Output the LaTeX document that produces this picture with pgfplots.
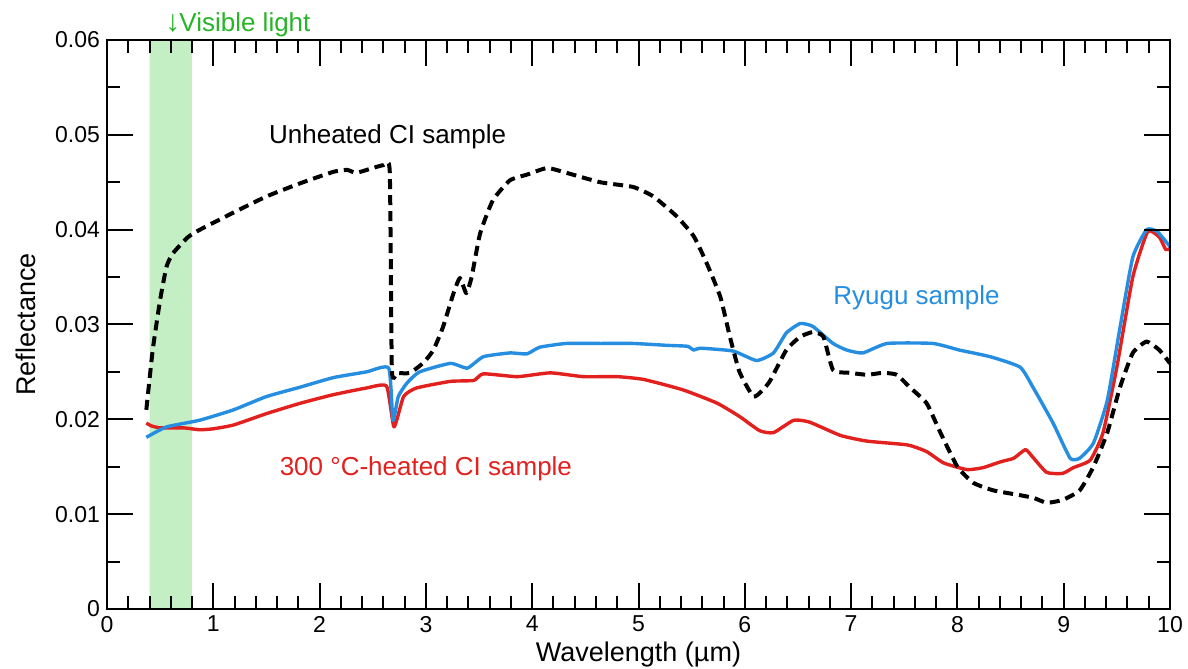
\documentclass[border=0pt]{standalone}
\usepackage{pgfplots}
\pgfplotsset{compat=1.18}
\usepackage{fontspec}
\setmainfont{Liberation Sans}
\usetikzlibrary{calc}

\definecolor{ryugu}{RGB}{38,142,224}
\definecolor{heated}{RGB}{226,32,30}
\definecolor{band}{RGB}{196,238,196}
\definecolor{vis}{RGB}{40,180,40}

\begin{document}
\begin{tikzpicture}
  \begin{axis}[
      scale only axis,
      width=531.5pt, height=284.5pt,
      xmin=0, xmax=10, ymin=0, ymax=0.06,
      xtick={0,1,...,10},
      ytick={0,0.01,...,0.06},
      minor x tick num=4,
      minor y tick num=1,
      major tick length=12.8pt,
      minor tick length=6.4pt,
      tick align=inside,
      every tick/.style={black, line width=1pt},
      axis line style={line width=1.3pt},
      scaled y ticks=false,
      yticklabel style={/pgf/number format/fixed, /pgf/number format/precision=2},
      /pgf/number format/assume math mode=true,
      tick label style={font=\fontsize{11.5}{13}\selectfont},
      xlabel={Wavelength (µm)},
      ylabel={Reflectance},
      label style={font=\fontsize{13.5}{15}\selectfont},
      xlabel style={at={(axis description cs:0.5,-0.058)}, anchor=north, inner sep=0pt},
      ylabel style={at={(axis description cs:-0.0668,0.5)}, anchor=south, inner sep=0pt},
      every axis plot/.append style={line join=round},
      axis on top,
      clip=false,
    ]
    % visible light band
    \addplot[fill=band, draw=none] coordinates {
        (0.4,0) (0.8,0) (0.8,0.06) (0.4,0.06)
      } \closedcycle;

    % 300 C heated CI sample
    \addplot[heated, line width=1.7pt, smooth, tension=0.3] coordinates {
        (0.37,0.0196) (0.42,0.0193) (0.50,0.0191) (0.72,0.0191) (0.87,0.0189)
        (1.00,0.0190) (1.19,0.0194) (1.50,0.0206) (1.82,0.0217) (2.13,0.0226) (2.44,0.0233)
        (2.63,0.0235) (2.70,0.0192) (2.79,0.0224) (2.91,0.0233) (3.23,0.0240)
        (3.45,0.0241) (3.54,0.0248) (3.86,0.0245) (4.17,0.0249) (4.48,0.0245)
        (4.80,0.0245) (5.05,0.0242) (5.42,0.0231) (5.74,0.0217) (5.95,0.0203)
        (6.14,0.0188) (6.27,0.0186) (6.46,0.0199) (6.61,0.0197) (6.90,0.0183)
        (7.15,0.0177) (7.53,0.0173) (7.71,0.0166) (7.87,0.0154) (8.09,0.0147)
        (8.24,0.0149) (8.40,0.0155) (8.53,0.0159) (8.64,0.0168) (8.71,0.0160)
        (8.84,0.0144) (8.99,0.0143) (9.09,0.0149) (9.25,0.0157) (9.37,0.0186)
        (9.50,0.0255) (9.65,0.0350) (9.79,0.0398) (9.90,0.0392) (9.96,0.0379)
        (10.0,0.0380)
      };

    % Ryugu sample
    \addplot[ryugu, line width=1.7pt, smooth, tension=0.3] coordinates {
        (0.37,0.0181) (0.56,0.0192) (0.87,0.0199) (1.19,0.0210) (1.50,0.0224)
        (1.82,0.0234) (2.13,0.0244) (2.44,0.0250) (2.65,0.0254) (2.69,0.0199)
        (2.74,0.0224) (2.82,0.0238) (2.94,0.0250) (3.23,0.0259) (3.39,0.0254)
        (3.54,0.0266) (3.79,0.0270) (3.95,0.0269) (4.07,0.0276) (4.32,0.0280)
        (4.64,0.0280) (4.95,0.0280) (5.27,0.0278) (5.46,0.0277) (5.52,0.0273)
        (5.58,0.0275) (5.89,0.0272) (6.11,0.0262) (6.27,0.0270) (6.39,0.0291)
        (6.52,0.0301) (6.64,0.0298) (6.83,0.0280) (6.96,0.0273) (7.11,0.0270)
        (7.34,0.0280) (7.77,0.0280) (8.02,0.0273) (8.31,0.0266) (8.59,0.0255)
        (8.71,0.0234) (8.90,0.0196) (9.06,0.0159) (9.15,0.0159) (9.28,0.0175)
        (9.41,0.0220) (9.53,0.0297) (9.65,0.0371) (9.78,0.0400) (9.88,0.0398)
        (10.0,0.0382)
      };

    % unheated CI sample
    \addplot[black, line width=2pt, dash pattern=on 5pt off 3pt, smooth, tension=0.3] coordinates {
        (0.37,0.0210) (0.43,0.0273) (0.50,0.0326) (0.56,0.0361) (0.62,0.0375)
        (0.76,0.0392) (0.875,0.0400) (1.19,0.0418) (1.50,0.0435) (1.82,0.0449)
        (2.13,0.0461) (2.26,0.0463) (2.35,0.0460) (2.60,0.0468) (2.66,0.0461)
        (2.68,0.0252) (2.73,0.0249) (2.85,0.0249) (2.98,0.0260) (3.07,0.0273)
        (3.16,0.0297) (3.26,0.0333) (3.32,0.0349) (3.38,0.0333) (3.43,0.0350)
        (3.51,0.0396) (3.63,0.0431) (3.79,0.0452) (3.95,0.0458) (4.14,0.0465)
        (4.32,0.0460) (4.64,0.0450) (4.95,0.0445) (5.14,0.0435) (5.36,0.0414)
        (5.52,0.0393) (5.64,0.0365) (5.77,0.0329) (5.86,0.0287) (5.95,0.0250)
        (6.08,0.0224) (6.17,0.0231) (6.24,0.0241) (6.39,0.0273) (6.52,0.0287)
        (6.64,0.0292) (6.74,0.0287) (6.83,0.0252) (6.99,0.0249) (7.15,0.0247)
        (7.30,0.0249) (7.43,0.0247) (7.55,0.0234) (7.71,0.0217) (7.84,0.0186)
        (8.00,0.0150) (8.15,0.0133) (8.34,0.0125) (8.59,0.0120) (8.72,0.0117)
        (8.84,0.0112) (8.99,0.0115) (9.15,0.0125) (9.28,0.0150) (9.41,0.0186)
        (9.53,0.0234) (9.65,0.0270) (9.78,0.0282) (9.90,0.0273) (10.0,0.0259)
      };

    % annotations
    \node[anchor=base, inner sep=0pt, font=\fontsize{13}{15}\selectfont]
      at (axis cs:2.64,0.0491) {Unheated CI sample};
    \node[anchor=base, inner sep=0pt, text=ryugu, font=\fontsize{13}{15}\selectfont]
      at (axis cs:7.615,0.0321) {Ryugu sample};
    \node[anchor=base, inner sep=0pt, text=heated, font=\fontsize{13}{15}\selectfont]
      at (axis cs:3.0,0.0141) {300 °C-heated CI sample};
    \node[anchor=base west, inner sep=0pt, text=vis, font=\fontsize{13}{15}\selectfont]
      at (axis cs:0.546,0.0609) {{\fontsize{15}{15}\selectfont ↓}\kern-0.5pt Visible light};
  \end{axis}
  \pgfresetboundingbox
  \path[use as bounding box]
    ($(current axis.south west)+(-53.5pt,-30pt)$) rectangle
    ($(current axis.north east)+(9pt,20pt)$);
\end{tikzpicture}
\end{document}
